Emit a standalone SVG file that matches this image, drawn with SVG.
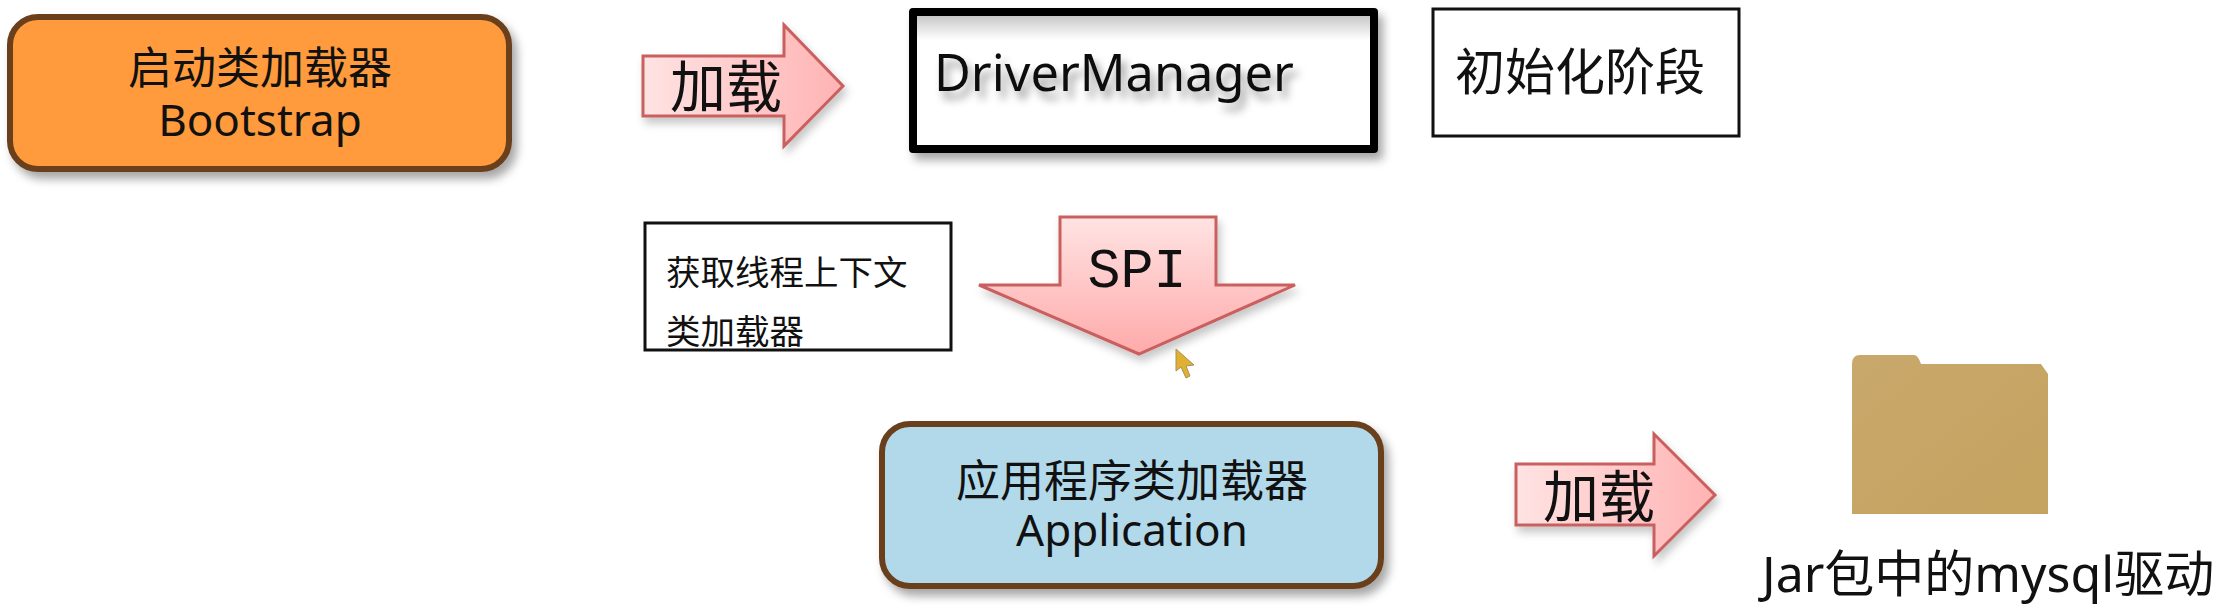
<svg xmlns="http://www.w3.org/2000/svg" width="2224" height="606" viewBox="0 0 2224 606">
<style>
text{font-family:"Noto Sans","Noto Sans CJK SC",sans-serif;fill:#111}
.m{text-anchor:middle}
.b{stroke:#6b3f1c;stroke-width:6}
.arrow{stroke:#c9605f;stroke-width:3;stroke-linejoin:miter}
.plain{fill:#fff;stroke:#111;stroke-width:3}
</style>
<defs>
<linearGradient id="ph" x1="0" x2="1" y1="0" y2="0"><stop offset="0" stop-color="#ffe3e3"/><stop offset="1" stop-color="#ffb3b3"/></linearGradient>
<linearGradient id="pv" x1="0" x2="0" y1="0" y2="1"><stop offset="0" stop-color="#ffe3e3"/><stop offset="1" stop-color="#ffaaaa"/></linearGradient>
<linearGradient id="fo" x1="0" x2="1" y1="0" y2="1"><stop offset="0" stop-color="#c9a86c"/><stop offset="1" stop-color="#c4a25f"/></linearGradient>
<linearGradient id="inner" x1="0" x2="0" y1="0" y2="1"><stop offset="0" stop-color="#c8c8c8"/><stop offset="1" stop-color="#fff"/></linearGradient>
<filter id="sh" x="-10%" y="-15%" width="120%" height="135%"><feDropShadow dx="5" dy="7" stdDeviation="5" flood-color="#000" flood-opacity=".35"/></filter>
<filter id="soft" x="-10%" y="-15%" width="120%" height="135%"><feDropShadow dx="3" dy="6" stdDeviation="4" flood-color="#000" flood-opacity=".22"/></filter>
<filter id="ts" x="-10%" y="-30%" width="120%" height="170%"><feDropShadow dx="5" dy="8" stdDeviation="4" flood-color="#000" flood-opacity=".4"/></filter>
</defs>
<rect width="2224" height="606" fill="#fff"/>
<g id="bootstrap">
<rect class="b" x="10" y="17" width="499" height="152" rx="28" fill="#ff9a3c" filter="url(#sh)"/>
<text class="m" font-size="44"><tspan x="260" y="84">启动类加载器</tspan><tspan x="260" y="136">Bootstrap</tspan></text>
</g>
<g id="driver-manager">
<rect x="913" y="12" width="461" height="137" fill="#fff" stroke="#000" stroke-width="8" stroke-linejoin="round" filter="url(#sh)"/>
<rect x="917" y="16" width="453" height="24" fill="url(#inner)"/>
<text x="934" y="91" font-size="50.5" filter="url(#ts)">DriverManager</text>
</g>
<g id="init-stage">
<rect class="plain" x="1433" y="9" width="306" height="127"/>
<text x="1455" y="90" font-size="50">初始化阶段</text>
</g>
<g id="thread-context">
<rect class="plain" x="645" y="223" width="306" height="127"/>
<text font-size="34.5"><tspan x="666" y="285">获取线程上下文</tspan><tspan x="666" y="344">类加载器</tspan></text>
</g>
<g id="application">
<rect class="b" x="882" y="424" width="499" height="162" rx="28" fill="#b2d9ea" filter="url(#sh)"/>
<text class="m" font-size="44"><tspan x="1132" y="497">应用程序类加载器</tspan><tspan x="1132" y="546">Application</tspan></text>
</g>
<g id="jar-driver">
<path d="M1852 514V364q0-9 8-9h54q4 0 7 9h120l7 10V514Z" fill="url(#fo)"/>
<text x="1762" y="592" font-size="50">Jar包中的mysql驱动</text>
</g>
<g id="connectors">
<g id="load-arrow-1">
<path class="arrow" d="M643 56H784V25L843 86 784 146V116H643Z" fill="url(#ph)" filter="url(#soft)"/>
<text x="670" y="107" font-size="56">加载</text>
</g>
<g id="spi-arrow">
<path class="arrow" d="M1060 217H1216V285H1295L1139 354 979 285H1060Z" fill="url(#pv)" filter="url(#soft)"/>
<text class="m" x="1137" y="287" font-size="55" style="font-family:'Liberation Mono',monospace">SPI</text>
</g>
<g id="load-arrow-2">
<path class="arrow" d="M1516 464H1654V434L1715 495 1654 556V525H1516Z" fill="url(#ph)" filter="url(#soft)"/>
<text x="1543" y="517" font-size="56">加载</text>
</g>
</g>
<path id="cursor" d="M1176 349L1176 371 1181 367 1186 378 1190 376 1186 366 1194 365Z" fill="#e0b030" stroke="#a89060" stroke-width="1"/>
</svg>
